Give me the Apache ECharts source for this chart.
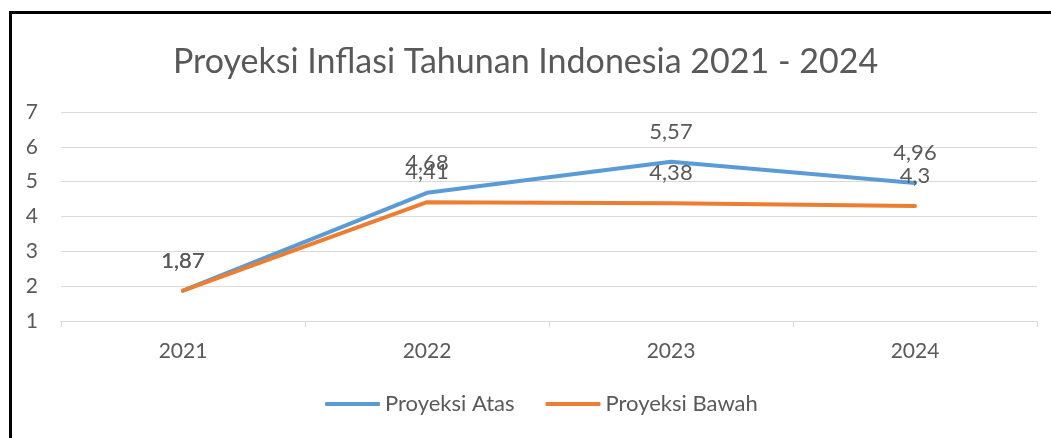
<!DOCTYPE html>
<html>
<head>
<meta charset="utf-8">
<script src="https://cdn.jsdelivr.net/npm/echarts@6/dist/echarts.min.js"></script>
<style>html,body{margin:0;padding:0;background:#fff;}#c{width:1051px;height:438px;}</style>
</head>
<body>
<div id="c"></div>
<script>
const categories = ['2021', '2022', '2023', '2024'];
const proyeksiAtas = [1.87, 4.68, 5.57, 4.96];
const proyeksiBawah = [1.87, 4.41, 4.38, 4.3];
const seriesNames = ['Proyeksi Atas', 'Proyeksi Bawah'];
const titleText = 'Proyeksi Inflasi Tahunan Indonesia 2021 - 2024';

const FONT = 'Lato, "Open Sans", sans-serif';
const chart = echarts.init(document.getElementById('c'), null, {renderer: 'canvas'});
const fmt = p => String(p.value).replace('.', ',');
const labelCfg = {show: true, position: 'top', distance: 19, formatter: fmt, fontFamily: FONT, fontSize: 22, color: '#595959'};
chart.setOption({
  animation: false,
  backgroundColor: '#fff',
  graphic: [{type: 'rect', shape: {x: 10.5, y: 12.5, width: 1200, height: 600}, style: {fill: 'none', stroke: '#000', lineWidth: 3}}],
  title: {text: titleText, left: 'center', top: 40, textStyle: {fontFamily: FONT, fontSize: 34, fontWeight: 'normal', color: '#595959'}},
  grid: {left: 61, right: 14, top: 112, bottom: 117},
  legend: {bottom: 18, left: 320, itemWidth: 55, itemHeight: 4, icon: 'roundRect', itemGap: 31,
    textStyle: {fontFamily: FONT, fontSize: 22, color: '#595959'}, data: seriesNames},
  xAxis: {type: 'category', data: categories, boundaryGap: true,
    axisLine: {lineStyle: {color: '#d9d9d9', width: 1}},
    axisTick: {show: true, length: 6, lineStyle: {color: '#d9d9d9'}},
    axisLabel: {fontFamily: FONT, fontSize: 21, color: '#595959', margin: 20}},
  yAxis: {type: 'value', min: 1, max: 7, interval: 1,
    axisLine: {show: false}, axisTick: {show: false},
    splitLine: {lineStyle: {color: '#d9d9d9', width: 1}},
    axisLabel: {fontFamily: FONT, fontSize: 21, color: '#595959', margin: 23, align: 'right'}},
  series: [
    {name: seriesNames[0], type: 'line', data: proyeksiAtas, showSymbol: true, symbol: 'circle', symbolSize: 0,
      lineStyle: {color: '#5B9BD5', width: 4, cap: 'round'}, itemStyle: {color: '#5B9BD5'}, label: labelCfg},
    {name: seriesNames[1], type: 'line', data: proyeksiBawah, showSymbol: true, symbol: 'circle', symbolSize: 0,
      lineStyle: {color: '#ED7D31', width: 4, cap: 'round'}, itemStyle: {color: '#ED7D31'}, label: labelCfg}
  ]
});
</script>
</body>
</html>
